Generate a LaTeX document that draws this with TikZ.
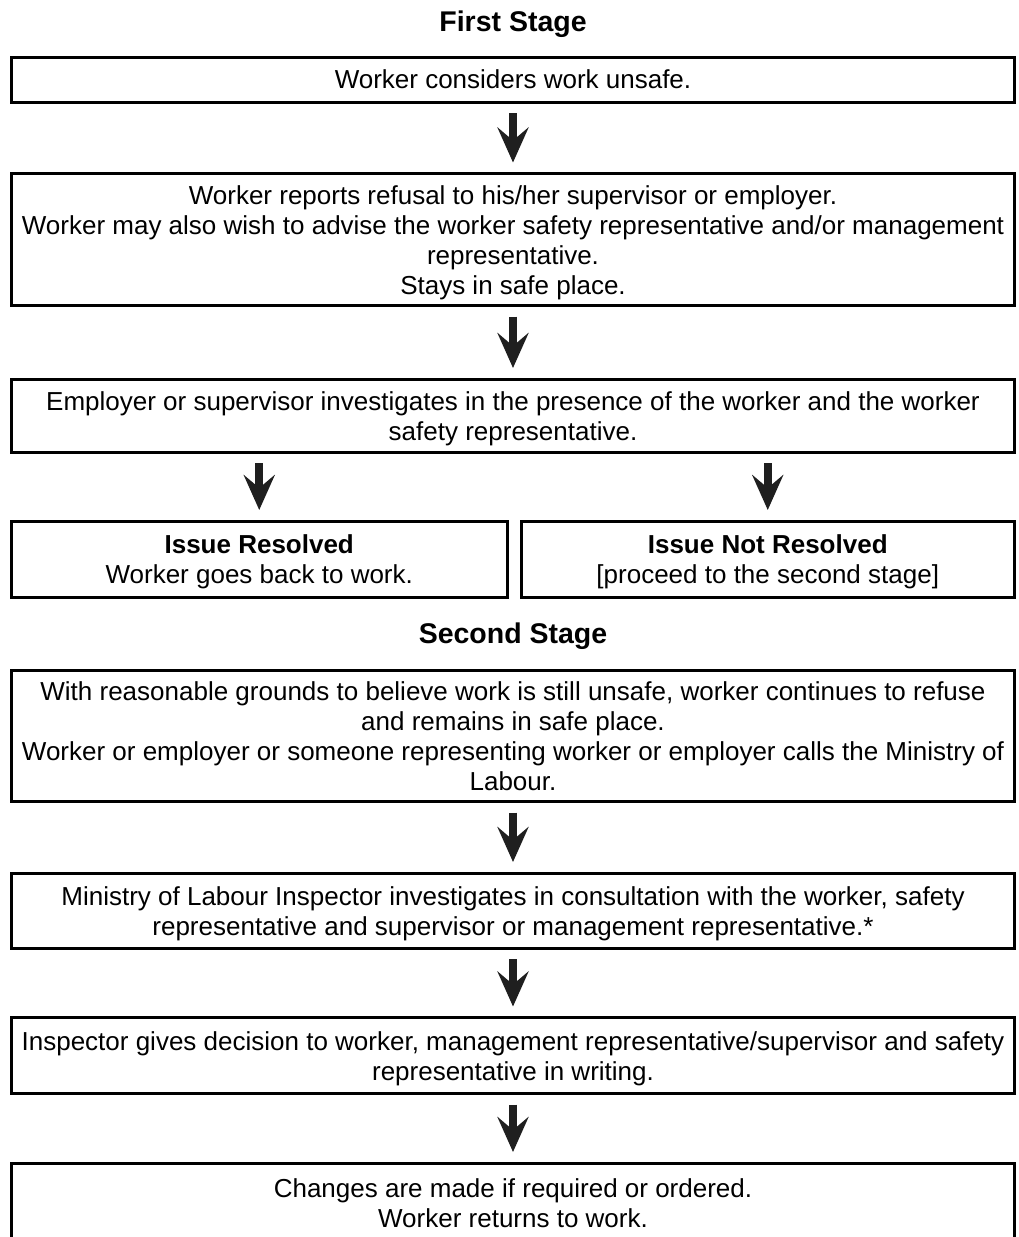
\documentclass[tikz,border=0pt]{standalone}
\usepackage{fontspec}
\setmainfont{Liberation Sans}
\usetikzlibrary{arrows.meta}
\newcommand\myfl{\rule{0pt}{24.5pt}}
\begin{document}
\begin{tikzpicture}[x=1pt,y=-1pt,
  box/.style={draw, line width=3pt, inner sep=0pt, outer sep=0pt, align=center,
    font=\fontsize{26}{30}\selectfont, minimum width=1003pt},
  title/.style={font=\fontsize{28.5}{32}\selectfont\bfseries, inner sep=0pt},
  arr/.style={line width=8pt, color=black!88,
    -{Stealth[length=35pt 0 0, width=31pt 0 0, inset=13pt 0 0]},
    shorten <=11pt, shorten >=11pt}
]
\useasboundingbox (0,0) rectangle (1018,1237);
\clip (0,0) rectangle (1018,1237);

\node[title] (t1) at (513,24) {First Stage};
\node[box, minimum height=45pt] (b1) at (513,79.5) {Worker considers work unsafe.};
\node[box, minimum height=132pt] (b2) at (513,239.5) {\myfl Worker reports refusal to his/her supervisor or employer.\\
Worker may also wish to advise the worker safety representative and/or management\\
representative.\\ Stays in safe place.};
\node[box, minimum height=73pt] (b3) at (513,415.5) {\myfl Employer or supervisor investigates in the presence of the worker and the worker\\ safety representative.};
\node[box, minimum height=76pt, minimum width=495.5pt] (b4l) at (259.25,559) {\myfl{\bfseries Issue Resolved}\\ Worker goes back to work.};
\node[box, minimum height=76pt, minimum width=493.5pt] (b4r) at (767.75,559) {\myfl{\bfseries Issue Not Resolved}\\ {[proceed to the second stage]}};

\node[title] (t2) at (513,636) {Second Stage};
\node[box, minimum height=131pt] (b5) at (513,736) {With reasonable grounds to believe work is still unsafe, worker continues to refuse\\
and remains in safe place.\\
Worker or employer or someone representing worker or employer calls the Ministry of\\ Labour.};
\node[box, minimum height=75pt] (b6) at (513,910.5) {\myfl Ministry of Labour Inspector investigates in consultation with the worker, safety\\ representative and supervisor or management representative.*};
\node[box, minimum height=76pt] (b7) at (513,1055.5) {\myfl Inspector gives decision to worker, management representative/supervisor and safety\\ representative in writing.};
\node[box, minimum height=80pt] (b8) at (513,1203) {Changes are made if required or ordered.\\ Worker returns to work.};

\draw[arr] (b1) -- (b2);
\draw[arr] (b2) -- (b3);
\draw[arr] (b3.south -| b4l) -- (b4l.north);
\draw[arr] (b3.south -| b4r) -- (b4r.north);
\draw[arr] (b5) -- (b6);
\draw[arr] (b6) -- (b7);
\draw[arr] (b7) -- (b8);
\end{tikzpicture}
\end{document}
